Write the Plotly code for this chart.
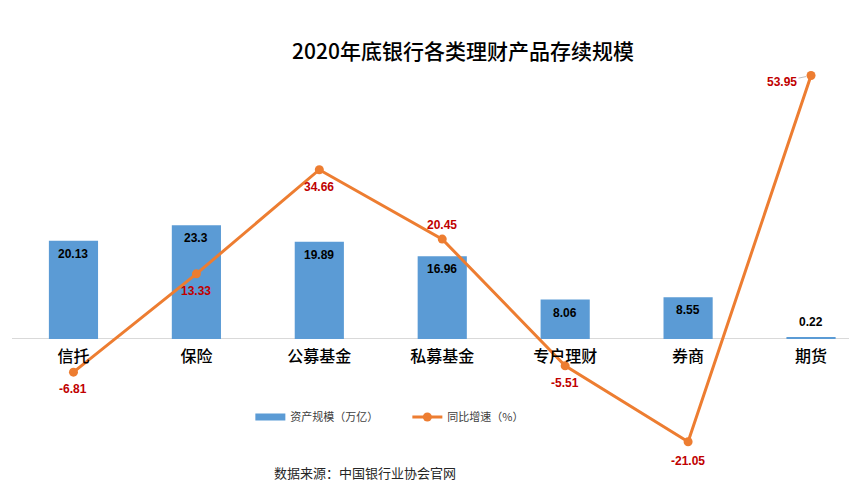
import plotly.graph_objects as go

categories = ["信托", "保险", "公募基金", "私募基金", "专户理财", "券商", "期货"]
asset_scale = [20.13, 23.3, 19.89, 16.96, 8.06, 8.55, 0.22]
yoy_growth = [-6.81, 13.33, 34.66, 20.45, -5.51, -21.05, 53.95]

x_pos = list(range(len(categories)))
y_min, y_max = -25, 60
zero_pos = (0 - y_min) / (y_max - y_min)

cjk = "Noto Sans CJK SC, Liberation Sans, sans-serif"
num_font = "Liberation Sans, Arial, sans-serif"

# page has 8px body margin; plot area in page pixels: x 11.5..857, y 45.6..461
OFF = 8
plot_left, plot_top, plot_bottom = 11.5, 45.6, 461
plot_h = plot_bottom - plot_top
plot_w = 857 - plot_left


def py(page_y):
    return (plot_bottom - page_y) / plot_h


def px(page_x):
    return (page_x - plot_left) / plot_w


fig = go.Figure()
fig.add_trace(go.Bar(
    x=x_pos, y=asset_scale, name="资产规模（万亿）",
    marker=dict(color="#5B9BD5", line=dict(width=0)),
    width=0.4, showlegend=False,
))
fig.add_trace(go.Scatter(
    x=[None], y=[None], name="资产规模（万亿）", mode="lines",
    line=dict(color="#5B9BD5", width=7), showlegend=True,
))
fig.add_trace(go.Scatter(
    x=x_pos, y=yoy_growth, name="同比增速（%）",
    mode="lines+markers",
    line=dict(color="#ED7D31", width=3),
    marker=dict(color="#ED7D31", size=9),
    cliponaxis=False,
))

# bar value labels
for i, v in enumerate(asset_scale):
    fig.add_annotation(
        x=x_pos[i], y=v, xref="x", yref="y", text=f"<b>{v}</b>",
        showarrow=False, yshift=(-13 if v >= 1 else 16),
        font=dict(family=num_font, size=12, color="#000000"),
    )

# line value labels
line_shift = [-17, -17, -17, 14, -17, -19, None]
for i, v in enumerate(yoy_growth):
    if line_shift[i] is None:
        fig.add_annotation(
            x=x_pos[i], y=v, xref="x", yref="y", text=f"<b>{v}</b>",
            showarrow=True, arrowhead=0, arrowcolor="#BFBFBF", arrowwidth=1,
            ax=-29, ay=6, standoff=5,
            font=dict(family=num_font, size=12, color="#C00000"),
        )
    else:
        fig.add_annotation(
            x=x_pos[i], y=v, xref="x", yref="y", text=f"<b>{v}</b>",
            showarrow=False, yshift=line_shift[i],
            font=dict(family=num_font, size=12, color="#C00000"),
        )

fig.add_annotation(
    x=px(463), y=py(50), xref="paper", yref="paper",
    xanchor="center", yanchor="middle",
    text="2020年底银行各类理财产品存续规模", showarrow=False,
    font=dict(family=cjk, size=21, color="#000000", weight=500),
)
fig.add_annotation(
    x=px(364.5), y=py(473), xref="paper", yref="paper",
    xanchor="center", yanchor="middle",
    text="数据来源：中国银行业协会官网", showarrow=False,
    font=dict(family=cjk, size=13, color="#262626"),
)

fig.update_layout(
    width=857 - OFF, height=493 - OFF,
    margin=dict(l=plot_left - OFF, r=0, t=plot_top - OFF, b=493 - plot_bottom),
    paper_bgcolor="white", plot_bgcolor="white",
    showlegend=True,
    legend=dict(orientation="h", x=px(250), y=py(417),
                xanchor="left", yanchor="middle",
                font=dict(family=cjk, size=11, color="#404040"),
                itemwidth=30, entrywidth=112, bgcolor="rgba(0,0,0,0)"),
    xaxis=dict(range=[-0.5, 6.374], tickvals=x_pos, ticktext=categories,
               anchor="free", position=zero_pos, showline=False,
               showgrid=False, zeroline=False, ticks="",
               ticklabelstandoff=6,
               tickfont=dict(family=cjk, size=16, color="#000000", weight=500)),
    yaxis=dict(range=[y_min, y_max], showgrid=False, zeroline=True,
               zerolinecolor="#D9D9D9", zerolinewidth=1,
               showticklabels=False, ticks=""),
)

fig.write_html("out.html")
